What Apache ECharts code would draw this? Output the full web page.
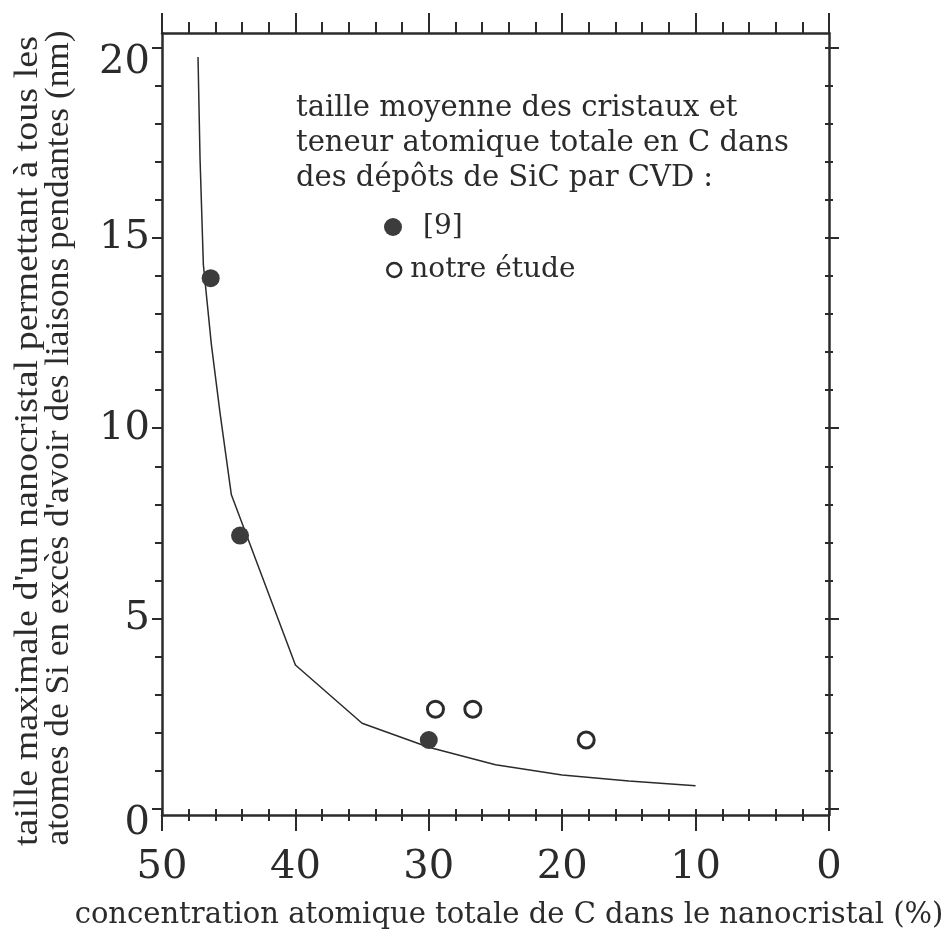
<!DOCTYPE html>
<html>
<head>
<meta charset="utf-8">
<script src="https://cdn.jsdelivr.net/npm/echarts@6/dist/echarts.min.js"></script>
<style>
  html, body { margin: 0; padding: 0; background: #fff; }
  #main { width: 948px; height: 940px; }
</style>
</head>
<body>
<div id="main"></div>
<script>
// courbe calculee : taille max (nm) vs teneur en C (%)
var curveX = [47.3, 47.15, 46.9, 46.3, 45.65, 44.8, 40, 35, 30, 25, 20, 15, 10];
var curveY = [19.75, 17.1, 14.3, 12.2, 10.4, 8.25, 3.78, 2.25, 1.62, 1.16, 0.89, 0.73, 0.61];

// ref [9]
var refX = [46.35, 44.15, 30.0];
var refY = [13.94, 7.18, 1.81];

// notre etude
var ourX = [29.5, 26.7, 18.2];
var ourY = [2.62, 2.62, 1.81];

var yMajor = [0, 5, 10, 15, 20];
var yMinor = [1, 2, 3, 4, 6, 7, 8, 9, 11, 12, 13, 14, 16, 17, 18, 19];
var yAll = [0, 1, 2, 3, 4, 5, 6, 7, 8, 9, 10, 11, 12, 13, 14, 15, 16, 17, 18, 19, 20];

var legendTitle = ['taille moyenne des cristaux et',
                   'teneur atomique totale en C dans',
                   'des dépôts de SiC par CVD :'];
var xName = 'concentration atomique totale de C dans le nanocristal (%)';
var yName1 = "taille maximale d'un nanocristal permettant à tous les";
var yName2 = "atomes de Si en excès d'avoir des liaisons pendantes (nm)";

function pairs(xs, ys) {
    var out = [];
    for (var i = 0; i < xs.length; i++) out.push([xs[i], ys[i]]);
    return out;
}

var ink = '#2b2b2b';
var serif = 'DejaVu Serif';

// titre vertical : police etroite, on ajuste la longueur
var cv = document.createElement('canvas').getContext('2d');
cv.font = '34px "Liberation Serif"';
function fitScale(txt, target) { return target / cv.measureText(txt).width; }

var myChart = echarts.init(document.getElementById('main'));

function line(show) {
    return { show: show, onZero: false, lineStyle: { color: ink, width: 2.5 } };
}

function yAx(grid, pos, opts) {
    var a = {
        type: 'value', gridIndex: grid, position: pos, min: -0.16, max: 20.38,
        axisLine: line(false),
        splitLine: { show: false },
        axisLabel: { show: false },
        axisTick: { show: false }
    };
    for (var k in opts) a[k] = opts[k];
    return a;
}

function xAx(grid, pos, opts) {
    var a = {
        type: 'value', gridIndex: grid, position: pos, min: 0, max: 50, interval: 10, inverse: true,
        axisLine: line(false),
        splitLine: { show: false },
        axisLabel: { show: false },
        axisTick: { show: false },
        minorTick: { show: false }
    };
    for (var k in opts) a[k] = opts[k];
    return a;
}

var g = { left: 162, right: 119, top: 33, bottom: 125, containLabel: false };

option = {
    animation: false,
    backgroundColor: '#fff',
    grid: [g, g, g],
    xAxis: [
        xAx(0, 'bottom', {
            axisLine: line(true),
            axisTick: { show: true, length: 16, lineStyle: { color: ink, width: 2 } },
            minorTick: { show: true, splitNumber: 5, length: 6, lineStyle: { color: ink, width: 2 } },
            axisLabel: { show: true, margin: 33, color: ink, fontFamily: serif, fontSize: 40 }
        }),
        xAx(0, 'top', {
            axisLine: line(true),
            axisTick: { show: true, length: 20, lineStyle: { color: ink, width: 2 } },
            minorTick: { show: true, splitNumber: 5, length: 11, lineStyle: { color: ink, width: 2 } }
        }),
        xAx(1, 'bottom', {
            axisTick: { show: true, inside: true, length: 6, lineStyle: { color: ink, width: 2 } },
            minorTick: { show: true, splitNumber: 5, length: 6, lineStyle: { color: ink, width: 2 } }
        }),
        xAx(2, 'bottom', {})
    ],
    yAxis: [
        yAx(0, 'left', {
            axisLine: line(true),
            axisTick: { show: true, customValues: yMajor, length: 10, lineStyle: { color: ink, width: 2 } },
            axisLabel: {
                show: true, customValues: yMajor, margin: 12, color: ink, fontFamily: serif, fontSize: 40,
                formatter: function (v) {
                    return (v === 0 || v === 20) ? '{lo|' + v + '}' : '' + v;
                },
                rich: { lo: { fontFamily: serif, fontSize: 40, color: ink, padding: [30, 0, 0, 0] } }
            }
        }),
        yAx(0, 'right', {
            axisLine: line(true),
            axisTick: { show: true, inside: true, customValues: yAll, length: 4, lineStyle: { color: ink, width: 2 } }
        }),
        yAx(1, 'left', {
            axisTick: { show: true, customValues: yMinor, length: 7, lineStyle: { color: ink, width: 2 } }
        }),
        yAx(1, 'right', {
            axisTick: { show: true, customValues: yMinor, length: 4, lineStyle: { color: ink, width: 2 } }
        }),
        yAx(2, 'right', {
            axisTick: { show: true, customValues: yMajor, length: 10, lineStyle: { color: ink, width: 2 } }
        })
    ],
    legend: [
        {
            data: ['[9]'], left: 384, top: 213, padding: 0,
            icon: 'circle', itemWidth: 18, itemHeight: 18,
            textStyle: { fontFamily: serif, fontSize: 28, color: ink, padding: [0, 0, 0, 16] }
        },
        {
            data: ['notre étude'], left: 386, top: 256, padding: 0,
            icon: 'circle', itemWidth: 14, itemHeight: 14,
            itemStyle: { color: '#fff', borderColor: ink, borderWidth: 2.5 },
            textStyle: { fontFamily: serif, fontSize: 28, color: ink, padding: [0, 0, 0, 4] }
        }
    ],
    graphic: [
        {
            type: 'text', x: 296, y: 91,
            style: { text: legendTitle.join('\n'), font: '29px "DejaVu Serif"', lineHeight: 35, fill: ink }
        },
        {
            type: 'text', x: 509, y: 915,
            style: { text: xName, font: '29px "DejaVu Serif"', fill: ink, align: 'center', verticalAlign: 'middle' }
        },
        {
            type: 'text', x: 28, y: 441, rotation: Math.PI / 2, scaleX: fitScale(yName1, 810),
            style: { text: yName1, font: '34px "Liberation Serif"', fill: ink, align: 'center', verticalAlign: 'middle' }
        },
        {
            type: 'text', x: 59, y: 438, rotation: Math.PI / 2, scaleX: fitScale(yName2, 815),
            style: { text: yName2, font: '34px "Liberation Serif"', fill: ink, align: 'center', verticalAlign: 'middle' }
        }
    ],
    series: [
        {
            name: 'courbe', type: 'line', data: pairs(curveX, curveY),
            symbol: 'none', lineStyle: { color: ink, width: 1.5 }, z: 2
        },
        {
            name: '[9]', type: 'scatter', data: pairs(refX, refY),
            symbol: 'circle', symbolSize: 18, itemStyle: { color: '#3c3c3c', opacity: 1 }, z: 5
        },
        {
            name: 'notre étude', type: 'scatter', data: pairs(ourX, ourY),
            symbol: 'circle', symbolSize: 16,
            itemStyle: { color: '#fff', borderColor: ink, borderWidth: 3, opacity: 1 }, z: 5
        }
    ]
};
myChart.setOption(option);
</script>
</body>
</html>
